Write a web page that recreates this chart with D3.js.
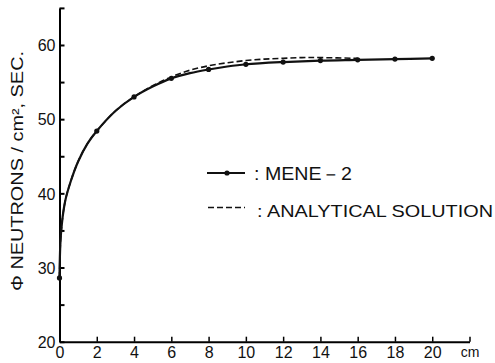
<!DOCTYPE html>
<html lang="en">
  <head>
    <meta charset="UTF-8" />
    <title>MENE-2 vs analytical solution</title>
    <style>
      body { margin: 0; background: #fff; }
      text { font-family: "Liberation Sans", Arial, sans-serif; fill: #111; }
    </style>
  </head>
  <body>
    <div id="wrapper"></div>
    <script src="https://d3js.org/d3.v7.min.js"></script>
    <script>
      // MENE-2 calculated points (dots)
      const meneX = [0, 2, 4, 6, 8, 10, 12, 14, 16, 18, 20];
      const meneY = [28.6, 48.4, 53.0, 55.5, 56.7, 57.4, 57.7, 57.9, 58.0, 58.1, 58.2];
      // solid curve drawn through the MENE-2 results
      const curveX = [0, 0.08, 0.3, 0.6, 1.0, 1.5, 2, 3, 4, 5, 6, 7, 8, 9, 10, 12, 14, 16, 18, 20];
      const curveY = [28.6, 34.6, 38.9, 41.6, 44.3, 46.7, 48.4, 51.1, 53.0, 54.4, 55.5, 56.2, 56.7, 57.1, 57.4, 57.7, 57.9, 58.0, 58.1, 58.2];
      // analytical solution (dashed)
      const analyticX = [0, 0.08, 0.3, 0.6, 1.0, 1.5, 2, 3, 4, 5, 6, 7, 8, 9, 10, 11, 12, 13, 14, 16];
      const analyticY = [28.6, 34.6, 38.9, 41.6, 44.3, 46.7, 48.4, 51.1, 53.0, 54.5, 55.7, 56.6, 57.2, 57.6, 57.9, 58.1, 58.2, 58.3, 58.3, 58.2];
      const xTicks = [0, 2, 4, 6, 8, 10, 12, 14, 16, 18, 20, 22];
      const yTicks = [20, 25, 30, 35, 40, 45, 50, 55, 60, 65];
      const yLabelTicks = [20, 30, 40, 50, 60];

      const svg = d3.select("#wrapper").append("svg")
        .attr("width", 495)
        .attr("height", 363);

      const x = d3.scaleLinear().domain([0, 22]).range([59.5, 469.5]);
      const y = d3.scaleLinear().domain([20, 65]).range([341.7, 7.9]);

      // y axis, ticks pointing inward
      const yAxis = svg.append("g")
        .attr("transform", `translate(${x(0)},0)`)
        .call(d3.axisLeft(y).tickValues(yTicks)
          .tickSizeInner(-5).tickSizeOuter(0).tickPadding(4)
          .tickFormat(d => yLabelTicks.includes(d) ? d : ""));
      yAxis.select(".domain").attr("stroke-width", 2);
      yAxis.selectAll(".tick line").attr("stroke-width", 2);
      yAxis.selectAll(".tick text").style("font-size", "16px").attr("dy", "0.36em");

      // x axis
      const xAxis = svg.append("g")
        .attr("transform", `translate(0,${y(20)})`)
        .call(d3.axisBottom(x).tickValues(xTicks)
          .tickSizeInner(-5).tickSizeOuter(0).tickPadding(5)
          .tickFormat(d => d === 22 ? "cm" : d));
      xAxis.select(".domain").attr("stroke-width", 2);
      xAxis.selectAll(".tick line").attr("stroke-width", 1.5);
      xAxis.selectAll(".tick text").style("font-size", "16px");
      xAxis.selectAll(".tick text").filter(d => d === 22).style("font-size", "14px");

      const line = d3.line()
        .x(d => x(d[0]))
        .y(d => y(d[1]))
        .curve(d3.curveCatmullRom.alpha(0.5));

      // analytical dashed line
      const analytic = analyticX.map((v, i) => [v, analyticY[i]]);
      svg.append("path")
        .datum(analytic)
        .attr("fill", "none")
        .attr("stroke", "#111")
        .attr("stroke-width", 1.6)
        .attr("stroke-dasharray", "6,3")
        .attr("d", line);

      // MENE-2 solid curve
      const curve = curveX.map((v, i) => [v, curveY[i]]);
      svg.append("path")
        .datum(curve)
        .attr("fill", "none")
        .attr("stroke", "#111")
        .attr("stroke-width", 2.2)
        .attr("d", line);

      svg.selectAll(".dot")
        .data(meneX.map((v, i) => [v, meneY[i]]))
        .join("circle")
          .attr("class", "dot")
          .attr("cx", d => x(d[0]))
          .attr("cy", d => y(d[1]))
          .attr("r", 2.6)
          .attr("fill", "#111");

      // legend
      const legend = svg.append("g");
      legend.append("line")
        .attr("x1", 207).attr("x2", 245).attr("y1", 173).attr("y2", 173)
        .attr("stroke", "#111").attr("stroke-width", 2);
      legend.append("circle").attr("cx", 227).attr("cy", 173).attr("r", 2.6).attr("fill", "#111");
      legend.append("text")
        .attr("x", 254).attr("y", 180)
        .attr("textLength", 98).attr("lengthAdjust", "spacingAndGlyphs")
        .style("font-size", "18px")
        .text(": MENE－2");
      legend.append("line")
        .attr("x1", 208).attr("x2", 245).attr("y1", 207.5).attr("y2", 207.5)
        .attr("stroke", "#111").attr("stroke-width", 1.6).attr("stroke-dasharray", "6,3");
      legend.append("text")
        .attr("x", 257).attr("y", 216.5)
        .attr("textLength", 236).attr("lengthAdjust", "spacingAndGlyphs")
        .style("font-size", "16.5px")
        .text(": ANALYTICAL SOLUTION");

      // y axis title
      svg.append("text")
        .attr("transform", "translate(23,171) rotate(-90)")
        .attr("text-anchor", "middle")
        .attr("textLength", 240).attr("lengthAdjust", "spacingAndGlyphs")
        .style("font-size", "16px")
        .text("Φ NEUTRONS / cm², SEC.");
    </script>
  </body>
</html>
